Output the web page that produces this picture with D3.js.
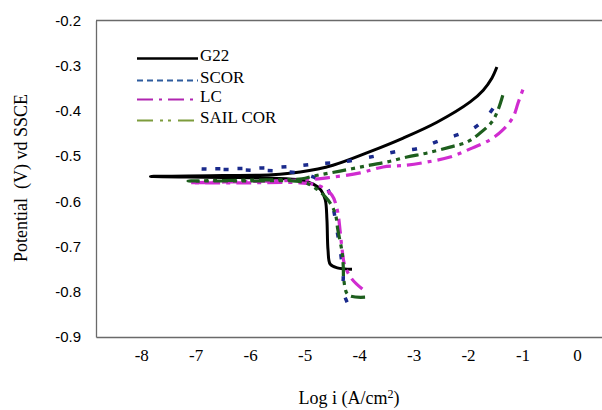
<!DOCTYPE html>
<html>
<head>
<meta charset="utf-8">
<script src="https://cdn.jsdelivr.net/npm/d3@7"></script>
<style>
  html, body { margin: 0; padding: 0; background: #fff; }
  svg { display: block; }
  .serif { font-family: "Liberation Serif", "Times New Roman", serif; }
  .sans { font-family: "Liberation Sans", Arial, sans-serif; }
</style>
</head>
<body>
<svg id="chart" width="602" height="410"></svg>
<script>
// ---- data ----
const seriesNames = ["G22", "SCOR", "LC", "SAIL COR"];

const g22LogI = [-4.13,-4.40,-4.53,-4.57,-4.59,-4.62,-4.70,-4.84,-5.08,-5.60,-6.50,-7.83,-6.50,-5.60,-5.08,-4.48,-3.80,-3.19,-2.57,-1.96,-1.72,-1.56,-1.47];
const g22E    = [-0.750,-0.747,-0.739,-0.708,-0.641,-0.597,-0.575,-0.562,-0.553,-0.549,-0.547,-0.545,-0.543,-0.541,-0.535,-0.520,-0.490,-0.460,-0.425,-0.380,-0.354,-0.327,-0.303];

const scorLogI = [-4.22,-4.31,-4.29,-4.31,-4.35,-4.40,-4.44,-4.50,-4.59,-4.84,-5.27,-6.00,-6.92,-6.00,-5.17,-4.77,-4.31,-3.71,-3.28,-2.88,-2.55,-2.20,-1.87,-1.63,-1.47];
const scorE    = [-0.823,-0.792,-0.770,-0.745,-0.703,-0.668,-0.637,-0.601,-0.570,-0.546,-0.535,-0.531,-0.528,-0.527,-0.522,-0.517,-0.513,-0.500,-0.489,-0.482,-0.467,-0.453,-0.436,-0.409,-0.382];

const lcLogI = [-3.94,-4.13,-4.26,-4.31,-4.35,-4.40,-4.50,-4.72,-5.08,-6.00,-7.10,-6.00,-5.08,-4.59,-3.98,-3.56,-3.12,-2.75,-2.33,-1.96,-1.60,-1.36,-1.17,-1.08,-0.99];
const lcE    = [-0.794,-0.772,-0.743,-0.708,-0.663,-0.619,-0.586,-0.566,-0.559,-0.559,-0.559,-0.556,-0.553,-0.548,-0.537,-0.524,-0.520,-0.513,-0.502,-0.484,-0.464,-0.442,-0.413,-0.382,-0.352];

const sailLogI = [-3.89,-4.20,-4.28,-4.29,-4.31,-4.39,-4.44,-4.57,-4.81,-5.05,-6.00,-7.14,-6.00,-5.05,-4.84,-4.35,-3.80,-3.49,-3.12,-2.75,-2.33,-2.02,-1.78,-1.56,-1.45,-1.36];
const sailE    = [-0.812,-0.807,-0.774,-0.745,-0.714,-0.663,-0.626,-0.597,-0.570,-0.557,-0.555,-0.555,-0.553,-0.550,-0.544,-0.533,-0.520,-0.513,-0.502,-0.493,-0.480,-0.469,-0.449,-0.424,-0.398,-0.365];

const xTickValues = [-8,-7,-6,-5,-4,-3,-2,-1,0];
const xTickLabels = ["-8","-7","-6","-5","-4","-3","-2","-1","0"];
const yTickValues = [-0.9,-0.8,-0.7,-0.6,-0.5,-0.4,-0.3,-0.2];
const yTickLabels = ["-0.9","-0.8","-0.7","-0.6","-0.5","-0.4","-0.3","-0.2"];

// ---- styles ----
const lineColors   = ["#000000", "#1a2a8c", "#d02cd0", "#1d5e1d"];
const legendColors = ["#000000", "#2e5c9e", "#b025b0", "#7d9c3c"];
const plotDash     = [null, "5,17", "15,6,4,6", "14,5,4,5,4,5"];
const legendDash   = [null, "6,4", "16,6,3,6", "16,7,3,5,3,7"];
const plotWidth    = [3, 3.5, 3.2, 3.2];

const svg = d3.select("#chart");
svg.append("rect").attr("width", 602).attr("height", 410).attr("fill", "#fff");

const x = d3.scaleLinear().domain([-8.83, 0.46]).range([96, 602]);
const y = d3.scaleLinear().domain([-0.9, -0.2]).range([337, 20.5]);

const axisColor = "#6a6a6a";

// top border
svg.append("line")
  .attr("x1", x.range()[0]).attr("x2", x.range()[1])
  .attr("y1", y(-0.2)).attr("y2", y(-0.2))
  .attr("stroke", axisColor).attr("stroke-width", 1.3);

// bottom axis
const xAxis = d3.axisBottom(x).tickValues(xTickValues)
  .tickFormat((d, i) => xTickLabels[i]).tickSize(0).tickSizeOuter(0).tickPadding(12);
const gx = svg.append("g").attr("transform", `translate(0,${y(-0.9)})`).call(xAxis);
gx.attr("font-family", null).attr("font-size", null);
gx.select(".domain").attr("stroke", axisColor).attr("stroke-width", 1.3);
gx.selectAll("text").attr("class", "serif").style("font-size", "17px").attr("fill", "#000");

// left axis
const yAxis = d3.axisLeft(y).tickValues(yTickValues)
  .tickFormat((d, i) => yTickLabels[i]).tickSize(0).tickSizeOuter(0).tickPadding(15);
const gy = svg.append("g").attr("transform", `translate(${x.range()[0]},0)`).call(yAxis);
gy.attr("font-family", null).attr("font-size", null);
gy.select(".domain").attr("stroke", axisColor).attr("stroke-width", 1.3);
gy.selectAll("text").attr("class", "sans").style("font-size", "15px").attr("fill", "#000");

// series
const seriesData = [
  g22LogI.map((v, i) => [v, g22E[i]]),
  scorLogI.map((v, i) => [v, scorE[i]]),
  lcLogI.map((v, i) => [v, lcE[i]]),
  sailLogI.map((v, i) => [v, sailE[i]])
];
const line = d3.line().x(d => x(d[0])).y(d => y(d[1])).curve(d3.curveCatmullRom.alpha(0.5));

seriesData.forEach((pts, k) => {
  svg.append("path")
    .datum(pts)
    .attr("d", line)
    .attr("fill", "none")
    .attr("stroke", lineColors[k])
    .attr("stroke-width", plotWidth[k])
    .attr("stroke-dasharray", plotDash[k])
    .attr("stroke-linejoin", "round");
});

// legend
const legBaselines = [61, 83, 102, 123];
seriesNames.forEach((name, k) => {
  svg.append("line")
    .attr("x1", 137).attr("x2", 198)
    .attr("y1", legBaselines[k] - 2.5).attr("y2", legBaselines[k] - 2.5)
    .attr("stroke", legendColors[k])
    .attr("stroke-width", k === 0 ? 2.5 : 2.2)
    .attr("stroke-dasharray", legendDash[k]);
  svg.append("text")
    .attr("class", "serif")
    .attr("x", 200).attr("y", legBaselines[k])
    .style("font-size", "17px").attr("fill", "#000")
    .text(name);
});

// axis titles
svg.append("text")
  .attr("class", "serif")
  .attr("transform", "translate(27,178) rotate(-90)")
  .attr("text-anchor", "middle")
  .style("font-size", "18px").attr("fill", "#000")
  .style("white-space", "pre")
  .text("Potential  (V) vd SSCE");

const xt = svg.append("text")
  .attr("class", "serif")
  .attr("x", 349).attr("y", 404)
  .attr("text-anchor", "middle")
  .style("font-size", "18px").attr("fill", "#000");
xt.append("tspan").text("Log i (A/cm");
xt.append("tspan").style("font-size", "12px").attr("dy", -6).text("2");
xt.append("tspan").attr("dy", 6).text(")");
</script>
</body>
</html>
